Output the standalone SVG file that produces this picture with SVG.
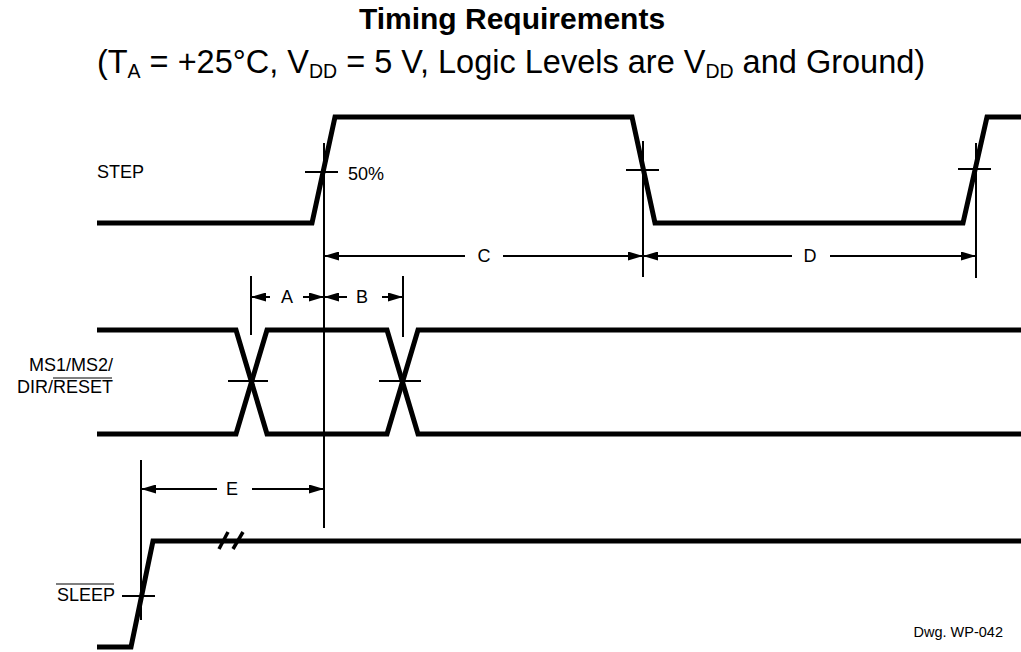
<svg xmlns="http://www.w3.org/2000/svg" width="1021" height="652" viewBox="0 0 1021 652">
<defs>
<style>
.wave{fill:none;stroke:#000;stroke-width:5;stroke-linejoin:miter;stroke-linecap:butt}
.thin{fill:none;stroke:#000;stroke-width:2}
.dim{fill:none;stroke:#000;stroke-width:2;marker-start:url(#ah)}
.lbl{font-family:"Liberation Sans",Arial,sans-serif;font-size:18px;fill:#000}
.ttl{font-family:"Liberation Sans",Arial,sans-serif;fill:#000}
</style>
<marker id="ah" viewBox="0 0 15 9" refX="15" refY="4.5" markerWidth="15" markerHeight="9" markerUnits="userSpaceOnUse" orient="auto-start-reverse">
<path d="M0,0 L15,4.5 L0,9 z" fill="#000"/>
</marker>
</defs>
<rect width="1021" height="652" fill="#fff"/>
<g id="title">
<text class="ttl" x="512" y="29" text-anchor="middle" font-size="30" font-weight="bold">Timing Requirements</text>
<text class="ttl" x="511" y="73" text-anchor="middle" font-size="32.5">(T<tspan font-size="19.5" dy="5">A</tspan><tspan dy="-5"> = +25°C, V</tspan><tspan font-size="19.5" dy="5">DD</tspan><tspan dy="-5"> = 5 V, Logic Levels are V</tspan><tspan font-size="19.5" dy="5">DD</tspan><tspan dy="-5"> and Ground)</tspan></text>
</g>
<g id="step">
<text class="lbl" x="97" y="178">STEP</text>
<polyline class="wave" points="97,223 312,223 335,117 632,117 655,223 963,223 987,117 1021,117"/>
<line class="thin" x1="305" y1="172" x2="338" y2="172"/>
<text class="lbl" x="348" y="180">50%</text>
<line class="thin" x1="626" y1="170" x2="659" y2="170"/>
<line class="thin" x1="958" y1="169" x2="991" y2="169"/>
</g>
<g id="ms">
<text class="lbl" x="113" y="371" text-anchor="end">MS1/MS2/</text>
<text class="lbl" x="113" y="393" text-anchor="end">DIR/RESET</text>
<line x1="53" y1="378" x2="112" y2="378" stroke="#000" stroke-width="1.2"/>
<polyline class="wave" points="97,330 236,330 267,434 387,434 418,330 1021,330"/>
<polyline class="wave" points="97,434 236,434 267,330 387,330 418,434 1021,434"/>
<line class="thin" x1="228" y1="381" x2="268" y2="381"/>
<line class="thin" x1="379" y1="381" x2="421" y2="381"/>
</g>
<g id="sleep">
<text class="lbl" x="115" y="601" text-anchor="end">SLEEP</text>
<line x1="56" y1="584" x2="114" y2="584" stroke="#000" stroke-width="1.2"/>
<polyline class="wave" points="97,647 131,647 153,541 1021,541"/>
<line x1="219" y1="549" x2="228" y2="532" stroke="#000" stroke-width="3.5"/>
<line x1="233" y1="549" x2="243" y2="532" stroke="#000" stroke-width="3.5"/>
<line class="thin" x1="122" y1="596" x2="155" y2="596"/>
</g>
<g id="connectors">
<line class="thin" x1="324" y1="143" x2="324" y2="528"/>
<line class="thin" x1="643" y1="141" x2="643" y2="277"/>
<line class="thin" x1="976" y1="143" x2="976" y2="278"/>
<line class="thin" x1="251" y1="276" x2="251" y2="335"/>
<line class="thin" x1="403" y1="276" x2="403" y2="337"/>
<line class="thin" x1="141" y1="460" x2="141" y2="620"/>
<line class="dim" x1="324" y1="256" x2="465" y2="256"/>
<line class="dim" x1="643" y1="256" x2="503" y2="256"/>
<text class="lbl" x="484" y="262" text-anchor="middle">C</text>
<line class="dim" x1="643" y1="256" x2="792" y2="256"/>
<line class="dim" x1="976" y1="256" x2="830" y2="256"/>
<text class="lbl" x="810" y="262" text-anchor="middle">D</text>
<line class="dim" x1="251" y1="297" x2="270" y2="297"/>
<line class="dim" x1="324" y1="297" x2="303" y2="297"/>
<text class="lbl" x="287" y="303" text-anchor="middle">A</text>
<line class="dim" x1="324" y1="297" x2="347" y2="297"/>
<line class="dim" x1="403" y1="297" x2="382" y2="297"/>
<text class="lbl" x="362" y="303" text-anchor="middle">B</text>
<line class="dim" x1="141" y1="489" x2="217" y2="489"/>
<line class="dim" x1="324" y1="489" x2="252" y2="489"/>
<text class="lbl" x="232" y="495" text-anchor="middle">E</text>
</g>
<text x="1003" y="637" text-anchor="end" font-family="'Liberation Sans',Arial,sans-serif" font-size="14.5" fill="#000">Dwg. WP-042</text>
</svg>
